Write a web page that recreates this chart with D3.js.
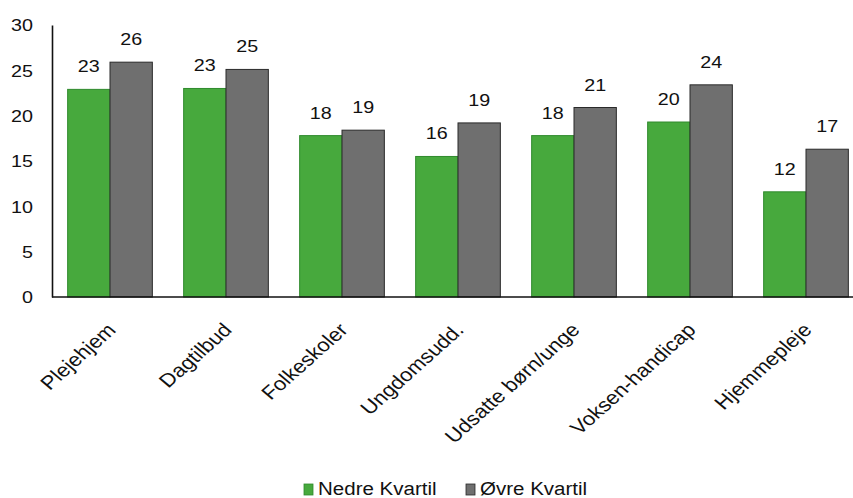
<!DOCTYPE html>
<html>
<head>
<meta charset="utf-8">
<script src="https://cdn.jsdelivr.net/npm/d3@7"></script>
<style>
  html, body { margin: 0; padding: 0; background: #fff; }
  svg { display: block; font-family: "Liberation Sans", Arial, sans-serif; }
</style>
</head>
<body>
<svg id="chart" width="853" height="498"></svg>
<script>
const categories = ["Plejehjem", "Dagtilbud", "Folkeskoler", "Ungdomsudd.", "Udsatte børn/unge", "Voksen-handicap", "Hjemmepleje"];
const seriesNames = ["Nedre Kvartil", "Øvre Kvartil"];
const nedre = [22.9, 23.0, 17.8, 15.5, 17.8, 19.3, 11.6];
const ovre  = [25.9, 25.1, 18.4, 19.2, 20.9, 23.4, 16.3];
const nedreLabels = [23, 23, 18, 16, 18, 20, 12];
const ovreLabels  = [26, 25, 19, 19, 21, 24, 17];
const yTicks = [0, 5, 10, 15, 20, 25, 30];

const SX = 1.16; // horizontal stretch of the scanned original
const fills = ["#47a93d", "#6f6f6f"];
const strokes = ["#2f8a2c", "#2a2a2a"];

const svg = d3.select("#chart");
const x0 = d3.scaleBand().domain(categories).range([52, 864]).paddingInner(0.27).paddingOuter(0.135);
const x1 = d3.scaleBand().domain(seriesNames).range([0, x0.bandwidth()]);
const y = d3.scaleLinear().domain([0, 30]).range([297, 25]);

const data = categories.map((c, i) => ({
  cat: c,
  vals: [
    { s: seriesNames[0], v: nedre[i], lab: nedreLabels[i], k: 0 },
    { s: seriesNames[1], v: ovre[i], lab: ovreLabels[i], k: 1 }
  ]
}));

const g = svg.selectAll("g.grp").data(data).enter().append("g")
  .attr("class", "grp")
  .attr("transform", d => `translate(${x0(d.cat)},0)`);

g.selectAll("rect").data(d => d.vals).enter().append("rect")
  .attr("x", d => x1(d.s))
  .attr("y", d => y(d.v))
  .attr("width", x1.bandwidth())
  .attr("height", d => y(0) - y(d.v))
  .attr("fill", d => fills[d.k])
  .attr("stroke", d => strokes[d.k])
  .attr("stroke-width", 1);

g.selectAll("text.val").data(d => d.vals).enter().append("text")
  .attr("class", "val")
  .attr("transform", d => `translate(${x1(d.s) + x1.bandwidth() / 2},${y(d.v) - 17}) scale(${SX},1)`)
  .attr("text-anchor", "middle")
  .attr("font-size", 17)
  .attr("fill", "#111")
  .text(d => d.lab);

// Y axis
const yAxis = d3.axisLeft(y).tickValues(yTicks).tickSize(0).tickPadding(0);
const ya = svg.append("g").attr("transform", "translate(52,0)").call(yAxis);
ya.select(".domain").attr("stroke", "#111").attr("stroke-width", 1.6);
ya.selectAll(".tick text")
  .attr("font-size", 17)
  .attr("fill", "#111")
  .attr("font-family", "Liberation Sans, Arial, sans-serif")
  .attr("text-anchor", "end")
  .attr("dy", "0.35em")
  .attr("x", null)
  .attr("transform", "translate(-19,0) scale(" + SX + ",1)");

// X axis baseline
const xAxis = d3.axisBottom(x0).tickSize(0).tickFormat(() => "");
const xa = svg.append("g").attr("transform", "translate(0,297)").call(xAxis);
xa.select(".domain").attr("d", "M52,0H853").attr("stroke", "#111").attr("stroke-width", 1.6);

// rotated category labels
svg.append("g").selectAll("text").data(categories).enter().append("text")
  .attr("transform", d => `translate(${x0(d) + x0.bandwidth() / 2 + 7},331) scale(${SX},1) rotate(-46)`)
  .attr("text-anchor", "end")
  .attr("font-size", 19)
  .attr("fill", "#111")
  .text(d => d);

// Legend
const legX = [304, 466];
const leg = svg.append("g").selectAll("g").data(seriesNames).enter().append("g");
leg.append("rect")
  .attr("x", (d, i) => legX[i]).attr("y", 484).attr("width", 9).attr("height", 11)
  .attr("fill", (d, i) => fills[i]).attr("stroke", (d, i) => strokes[i]).attr("stroke-width", 0.8);
leg.append("text")
  .attr("transform", (d, i) => `translate(${legX[i] + 14},495) scale(1.08,1)`)
  .attr("font-size", 19)
  .attr("fill", "#111")
  .text(d => d);
</script>
</body>
</html>
